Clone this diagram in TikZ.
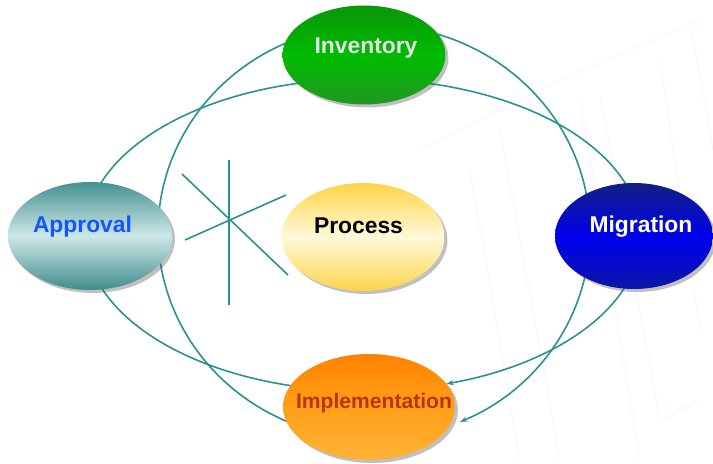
\documentclass[tikz,border=0pt]{standalone}
\usepackage{fontspec}
\setmainfont{Liberation Sans}
\usetikzlibrary{shapes.geometric,shadows,arrows.meta}
\definecolor{loopc}{RGB}{40,145,145}
\definecolor{wmk}{RGB}{252,243,252}
\definecolor{invT}{RGB}{10,150,10}
\definecolor{invM}{RGB}{0,188,0}
\definecolor{invB}{RGB}{35,150,35}
\definecolor{appT}{RGB}{70,145,145}
\definecolor{appM}{RGB}{205,232,232}
\definecolor{appB}{RGB}{65,140,140}
\definecolor{proT}{RGB}{255,212,70}
\definecolor{proM}{RGB}{255,249,218}
\definecolor{proB}{RGB}{250,212,75}
\definecolor{migT}{RGB}{18,32,128}
\definecolor{migM}{RGB}{0,0,238}
\definecolor{migB}{RGB}{12,22,165}
\definecolor{impT}{RGB}{255,130,0}
\definecolor{impM}{RGB}{255,160,25}
\definecolor{impB}{RGB}{255,178,55}
\definecolor{appTxt}{RGB}{20,85,255}
\definecolor{invTxt}{RGB}{228,228,228}
\definecolor{impTxt}{RGB}{190,50,10}
\begin{document}
\begin{tikzpicture}[x=0.02cm,y=-0.02cm,
  bub/.style={ellipse, inner sep=0pt,
    drop shadow={shadow xshift=0.06cm,shadow yshift=-0.06cm,opacity=0.35,fill=black!70}},
  lbl/.style={anchor=base, inner sep=0pt, font=\bfseries\fontsize{13}{15}\selectfont},
  loopline/.style={draw=loopc, line width=0.9pt},
  tip/.style={-{Stealth[length=4pt,width=3pt]}},
  wm/.style={draw=wmk, line width=0.5pt}
]
\useasboundingbox (0,0) rectangle (713,463);
\fill[white] (0,0) rectangle (713,463);

% faint watermark
\draw[wm] (420,150) -- (560,80) -- (700,20);
\draw[wm] (470,170) -- (520,460);
\draw[wm] (500,130) -- (560,460);
\draw[wm] (580,100) -- (640,460);
\draw[wm] (600,95) -- (660,420) -- (700,400);
\draw[wm] (660,60) -- (700,330);
\draw[wm] (690,20) -- (713,150);

% loop centres
\coordinate (L1) at (363,235);
\coordinate (L2) at (374,232);

% wide loop
\path[loopline] (L1) ++(198:278 and 156) arc[start angle=198,end angle=257,x radius=278,y radius=156];
\path[loopline] (L1) ++(283:278 and 156) arc[start angle=283,end angle=342,x radius=278,y radius=156];
\path[loopline,tip] (L1) ++(18:278 and 156) arc[start angle=18,end angle=72.5,x radius=278,y radius=156];
\path[loopline] (L1) ++(104:278 and 156) arc[start angle=104,end angle=160,x radius=278,y radius=156];

% tall loop
\path[loopline] (L2) ++(285:216 and 207) arc[start angle=285,end angle=352,x radius=216,y radius=207];
\path[loopline,tip] (L2) ++(10:216 and 207) arc[start angle=10,end angle=66.5,x radius=216,y radius=207];
\path[loopline] (L2) ++(110:216 and 207) arc[start angle=110,end angle=175,x radius=216,y radius=207];
\path[loopline] (L2) ++(183:216 and 207) arc[start angle=183,end angle=249,x radius=216,y radius=207];

% star lines
\coordinate (s1) at (229,160); \coordinate (s2) at (229,305);
\coordinate (s3) at (182,174); \coordinate (s4) at (288,275);
\coordinate (s5) at (185,240); \coordinate (s6) at (286,195);
\draw[loopline] (s1) -- (s2);
\draw[loopline] (s3) -- (s4);
\draw[loopline] (s5) -- (s6);

% bubbles
\node[bub, minimum width=3.26cm, minimum height=1.98cm,
  top color=invT, bottom color=invB, middle color=invM] (inv) at (364,55) {};
\node[bub, minimum width=3.28cm, minimum height=2.16cm,
  top color=appT, bottom color=appB, middle color=appM] (app) at (90,236) {};
\node[bub, minimum width=3.26cm, minimum height=2.16cm,
  top color=proT, bottom color=proB, middle color=proM] (pro) at (363,237) {};
\node[bub, minimum width=3.16cm, minimum height=2.12cm,
  top color=migT, bottom color=migB, middle color=migM] (mig) at (634,236) {};
\node[bub, minimum width=3.44cm, minimum height=2.12cm,
  top color=impT, bottom color=impB, middle color=impM] (imp) at (369,407) {};

% labels
\node[lbl, text=invTxt] (invl) at (366,53) {Inventory};
\node[lbl, text=appTxt] (appl) at (82.5,232) {Approval};
\node[lbl, text=black] (prol) at (358.5,233) {Process};
\node[lbl, text=white] (migl) at (641,232) {Migration};
\node[lbl, text=impTxt, font=\bfseries\fontsize{12}{14}\selectfont] (impl) at (374,408) {Implementation};
\end{tikzpicture}
\end{document}
